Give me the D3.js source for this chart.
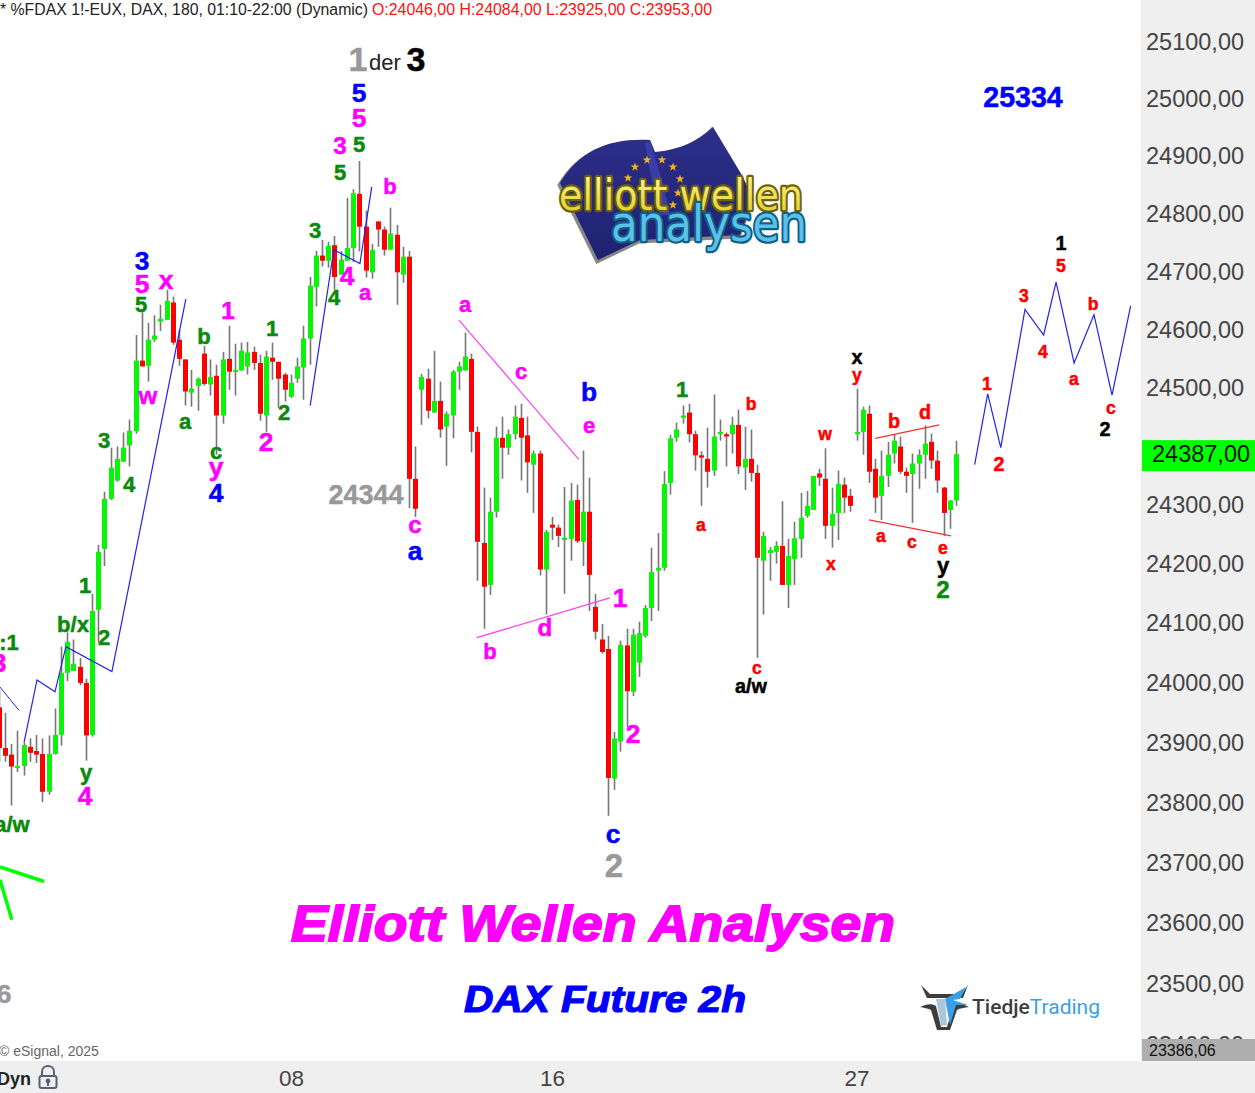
<!DOCTYPE html>
<html><head><meta charset="utf-8">
<script src="https://cdn.jsdelivr.net/npm/d3@7/dist/d3.min.js"></script>
<style>html,body{margin:0;padding:0;background:#fff}svg{display:block}text{font-family:"Liberation Sans",Arial,sans-serif}</style>
</head><body><svg id="c" width="1255" height="1093"></svg>
<script>
// ---- candle data (price units) ----
const opens=[23959,23891,23880,23858,23861,23893,23886,23881,23818,23881,23913,24017,24020,24027,24000,23913,24123,24226,24311,24342,24374,24402,24426,24547,24538,24583,24614,24617,24647,24583,24549,24492,24504,24559,24506,24521,24453,24550,24528,24530,24537,24562,24543,24453,24552,24545,24523,24485,24516,24535,24585,24674,24728,24719,24746,24695,24719,24741,24835,24778,24699,24787,24773,24738,24764,24695,24726,24345,24497,24516,24458,24478,24434,24453,24528,24530,24550,24425,24236,24165,24289,24415,24398,24421,24449,24419,24369,24388,24191,24267,24262,24241,24243,24309,24238,24289,24128,24073,24057,23840,23902,24063,23985,24034,24079,24126,24189,24194,24338,24415,24449,24458,24421,24385,24379,24359,24421,24421,24421,24437,24364,24379,24355,24206,24219,24221,24231,24165,24209,24243,24282,24292,24354,24345,24265,24287,24335,24316,24421,24425,24456,24362,24316,24350,24388,24400,24357,24353,24371,24386,24408,24376,24330,24292,24308];
const highs=[23988,23950,23898,23920,23900,23907,23913,23907,23912,23957,24061,24085,24073,24042,24007,24150,24233,24323,24398,24400,24424,24446,24591,24630,24612,24625,24643,24669,24657,24600,24549,24531,24518,24572,24549,24540,24562,24607,24576,24578,24579,24571,24557,24564,24578,24545,24526,24523,24552,24607,24691,24736,24755,24752,24762,24736,24828,24843,24892,24806,24748,24787,24778,24811,24781,24743,24736,24400,24524,24533,24564,24511,24460,24531,24545,24595,24559,24434,24330,24313,24434,24451,24429,24470,24473,24451,24393,24393,24258,24280,24267,24331,24338,24335,24393,24347,24150,24099,24079,23918,24071,24091,24091,24103,24131,24228,24253,24358,24420,24441,24470,24473,24427,24392,24432,24489,24446,24424,24451,24463,24434,24429,24369,24255,24229,24239,24307,24243,24272,24321,24324,24350,24362,24397,24330,24359,24347,24328,24499,24468,24470,24379,24393,24408,24420,24417,24364,24388,24395,24436,24422,24393,24331,24309,24410];
const lows=[23868,23868,23795,23851,23845,23868,23866,23801,23813,23880,23895,24003,24020,23996,23870,23910,24068,24197,24309,24340,24374,24366,24422,24537,24511,24579,24598,24617,24574,24538,24470,24468,24461,24504,24487,24386,24439,24497,24487,24530,24523,24531,24444,24425,24514,24466,24477,24483,24509,24480,24540,24640,24709,24707,24669,24695,24719,24717,24735,24690,24688,24743,24728,24738,24643,24681,24295,24280,24437,24448,24458,24415,24367,24414,24497,24530,24390,24172,24091,24148,24279,24345,24386,24412,24342,24321,24287,24181,24115,24241,24229,24150,24206,24236,24197,24121,24073,24049,23778,23821,23885,23925,23978,24010,24076,24104,24121,24189,24318,24408,24439,24407,24359,24299,24330,24350,24410,24366,24388,24353,24326,24340,24042,24115,24172,24201,24165,24126,24165,24211,24279,24292,24333,24243,24228,24241,24287,24289,24410,24386,24338,24287,24275,24331,24371,24353,24321,24270,24328,24345,24362,24321,24248,24260,24299];
const closes=[23891,23878,23860,23861,23896,23883,23880,23818,23881,23913,24017,24069,24032,24000,23912,24121,24221,24311,24364,24379,24398,24427,24547,24537,24583,24590,24619,24650,24578,24550,24494,24499,24516,24507,24519,24453,24549,24528,24531,24564,24561,24543,24456,24554,24545,24516,24497,24509,24537,24585,24676,24728,24719,24745,24691,24721,24741,24836,24778,24702,24738,24773,24738,24766,24699,24726,24345,24294,24519,24461,24478,24429,24456,24528,24537,24554,24425,24238,24162,24289,24415,24398,24421,24451,24415,24373,24388,24191,24255,24262,24248,24245,24308,24239,24289,24182,24086,24052,23841,23907,24064,23986,24081,24084,24126,24187,24194,24336,24414,24429,24453,24421,24385,24381,24357,24417,24425,24417,24437,24366,24379,24355,24211,24248,24224,24231,24165,24214,24244,24279,24299,24350,24347,24265,24285,24336,24313,24299,24425,24463,24357,24313,24350,24386,24410,24357,24350,24371,24386,24405,24376,24342,24287,24308,24387];

// ---- axes ----
const priceTicks=[25100,25000,24900,24800,24700,24600,24500,24300,24200,24100,24000,23900,23800,23700,23600,23500,23400];
const dateTickIndex=[47,89,138];
const dateTickLabels=["08","16","27"];
const lastPrice=24387;
const scaleMinPrice="23386,06";

// ---- drawn overlay lines as [bar index, price] ----
const forecastLine=[[157,24369],[159.1,24490],[161.2,24398],[165.1,24635],[168.1,24591],[170.1,24682],[173,24543],[176.2,24626],[179.1,24488],[182.1,24641]];
const bluePathA=[[0.2,23993],[3.25,23954]];
const bluePathB=[[4.06,23900],[6.15,24005],[9.04,23985],[10.8,24061],[18.2,24019],[30.1,24653]];
const bluePathC=[[50.1,24470],[53.9,24738],[58.1,24714],[60,24847]];
const pinkUpper=[[74,24617],[93.3,24378]];
const pinkLower=[[76.9,24076],[98.3,24143]];
const redUpper=[[141,24414],[151.3,24437]];
const redLower=[[140,24275],[153.2,24248]];
const greenRayA=[[0.2,23693],[7.3,23669]];
const greenRayB=[[0.2,23672],[2.1,23606]];

// ---- wave labels ----
const GR="#0a8a0a",MG="#ff00ff",BL="#0000ff",RD="#ff0000",BK="#000",GY="#999";
const labels=[
["1",GY,31,358,71],["3",BK,31,416,71],
["5",BL,24,359,102],["5",MG,24,359,127],["3",MG,22,340,154],["5",GR,20,359,152],["5",GR,20,340,180],["b",MG,20,390,194],
["3",BL,24,142,270],["5",MG,24,142,293],["5",GR,20,141,312],["x",MG,24,166,289],["w",MG,22,148,404],
["a",GR,20,185,429],["b",GR,20,204,344],["1",MG,22,228,319],["1",GR,20,272,336],["c",GR,20,216,459],["y",MG,24,216,476],["4",BL,24,216,502],
["2",MG,24,266,451],["2",GR,20,284,420],["3",GR,20,315,238],["4",GR,20,334,305],["4",MG,24,347,285],["a",MG,20,365,300],
["3",GR,20,104,448],["4",GR,20,129,492],["1",GR,20,85,593],["b/x",GR,20,73,632],["2",GR,20,104,645],["y",GR,20,86,780],["4",MG,24,85,805],
[":1",GR,20,9,650],["3",MG,24,-1,672],["a/w",GR,20,12,832],["6",GY,24,4,1003],
["24344",GY,24.5,366,504],["a",BL,24,415,560],["c",MG,22,415,533],
["a",MG,20,465,312],["c",MG,20,521,379],["b",BL,24,589,401],["e",MG,20,589,433],["b",MG,20,490,659],["d",MG,22,545,636],["1",MG,24,620,607],["2",MG,24,633,743],["c",BL,24,613,843],["2",GY,30,614,877],
["1",GR,20,682,397],["b",RD,16,751,410],["a",RD,16,701,531],["c",RD,16,757,674],["a/w",BK,18,751,693],["w",RD,16,825,440],["x",RD,16,831,570],
["x",BK,18,857,364],["y",RD,16,857,381],["b",RD,18,894,428],["d",RD,18,925,419],["a",RD,16,881,542],["c",RD,16,912,548],["e",RD,16,943,554],["y",BK,20,943,573],["2",GR,22,943,598],
["1",RD,16,987,390],["2",RD,18,999,471],["3",RD,16,1024,302],["4",RD,16,1043,358],["5",RD,16,1061,272],["1",BK,18,1061,250],["a",RD,16,1074,385],["b",RD,16,1093,310],["c",RD,16,1111,414],["2",BK,18,1105,436],
["25334",BL,26,1023,107]
];
const labelScale=1.1;

const svg=d3.select("#c");
const W=1255,H=1093,plotR=1141,plotB=1061;
const x=d3.scaleLinear().domain([1,154]).range([5,956]);
const y=d3.scaleLog().domain([25100,23500]).range([42,984]);
const candles=opens.map((o,i)=>({i,o,h:highs[i],l:lows[i],c:closes[i]}));
svg.append("rect").attr("width",W).attr("height",H).attr("fill","#fff");

// ---- logo behind the candles ----
const logo=svg.append("g");
const defs=svg.append("defs");
const fg=defs.append("linearGradient").attr("id","fl").attr("x1",0).attr("y1",0).attr("x2",0).attr("y2",1);
fg.append("stop").attr("offset",0).attr("stop-color","#2d2f8a");
fg.append("stop").attr("offset",1).attr("stop-color","#1f2170");
const ye=defs.append("linearGradient").attr("id","ye").attr("x1",0).attr("y1",0).attr("x2",0).attr("y2",1);
ye.append("stop").attr("offset",0).attr("stop-color","#fdf6a0");
ye.append("stop").attr("offset",1).attr("stop-color","#e0c820");
const flag="M560,183 C580,150 610,138 650,140 L655,152 C680,150 700,140 713,127 L743,177 L753,200 L740,235 L640,240 L598,260 Z";
logo.append("path").attr("d",flag).attr("fill","#888").attr("stroke","#888").attr("stroke-width",3).attr("transform","translate(-1,2)");
logo.append("path").attr("d",flag).attr("fill","url(#fl)");
logo.append("path").attr("d","M650,142 C660,170 666,195 670,215 L660,215 C654,190 648,165 645,142 Z").attr("fill","#3a3ca8");
const stars=[[635,167],[647,160],[662,160],[673,167],[680,179],[678,193],[673,205],[628,178],[633,204]];
logo.selectAll(".st").data(stars).join("path").attr("d",d3.symbol(d3.symbolStar,24)).attr("fill","#f2b318").attr("transform",d=>`translate(${d[0]},${d[1]})`);
function logoText(t,cx,by,w,fs,fill,edge){
  logo.append("text").attr("x",cx).attr("y",by).attr("text-anchor","middle").attr("textLength",w).attr("lengthAdjust","spacingAndGlyphs")
   .style("font-family","'DejaVu Sans'").attr("font-size",fs).attr("fill",fill).attr("stroke",edge).attr("stroke-width",4.5).attr("stroke-linejoin","round").attr("paint-order","stroke").text(t);
}
logoText("elliott wellen",681,210,244,42,"url(#ye)","#6d6200");
logoText("analysen",709,241,196,50,"#5cc0e8","#0f5f86");

// ---- overlay lines ----
const line=d3.line().x(d=>x(d[0])).y(d=>y(d[1]));
const lineSpec=[[bluePathA,"#2222ee",1],[bluePathB,"#2222ee",1.2],[bluePathC,"#2222ee",1.2],[forecastLine,"#2222ee",1.2],
 [pinkUpper,"#ff44ee",1.2],[pinkLower,"#ff44ee",1.4],[redUpper,"#f03030",1.3],[redLower,"#f03030",1.3],[greenRayA,"#00ff00",3.5],[greenRayB,"#00ff00",3.5]];

// ---- candles ----
const gc=svg.append("g");
gc.selectAll(".w").data(candles).join("rect").attr("class","w")
  .attr("x",d=>Math.round(x(d.i))-0.3).attr("width",1.6)
  .attr("y",d=>y(d.h)).attr("height",d=>y(d.l)-y(d.h)).attr("fill","#777");
gc.selectAll(".b").data(candles).join("rect").attr("class","b")
  .attr("x",d=>Math.round(x(d.i))-2).attr("width",5)
  .attr("y",d=>y(Math.max(d.o,d.c))).attr("height",d=>Math.max(2,y(Math.min(d.o,d.c))-y(Math.max(d.o,d.c))))
  .attr("fill",d=>d.c>=d.o?"#08f508":"#ff0000");
svg.append("g").selectAll("path").data(lineSpec).join("path").attr("fill","none")
  .attr("d",d=>line(d[0])).attr("stroke",d=>d[1]).attr("stroke-width",d=>d[2]);

// ---- wave labels ----
svg.append("g").selectAll("text").data(labels).join("text").attr("font-weight","bold").attr("text-anchor","middle")
  .attr("fill",d=>d[1]).attr("stroke",d=>d[1]).attr("stroke-width",0.5)
  .attr("font-size",d=>d[2]*labelScale).attr("x",d=>d[3]).attr("y",d=>d[4]).text(d=>d[0]);
svg.append("text").attr("x",369).attr("y",70).attr("font-size",22).attr("fill","#222").text("der");

// ---- big titles ----
svg.append("text").attr("x",291).attr("y",941).attr("textLength",604).attr("lengthAdjust","spacingAndGlyphs").attr("font-weight","bold").attr("font-style","italic")
  .attr("font-size",50).attr("fill","#ff00ff").attr("stroke","#ff00ff").attr("stroke-width",1.8).text("Elliott Wellen Analysen");
svg.append("text").attr("x",464).attr("y",1012).attr("textLength",282).attr("lengthAdjust","spacingAndGlyphs").attr("font-weight","bold").attr("font-style","italic")
  .attr("font-size",37).attr("fill","#0000ff").attr("stroke","#0000ff").attr("stroke-width",1.2).text("DAX Future 2h");

// ---- header ----
svg.append("text").attr("x",0).attr("y",15).attr("font-size",16).attr("textLength",368).attr("lengthAdjust","spacingAndGlyphs").attr("fill","#222").text("* %FDAX 1!-EUX, DAX, 180, 01:10-22:00 (Dynamic)");
svg.append("text").attr("x",372).attr("y",15).attr("font-size",16).attr("textLength",340).attr("lengthAdjust","spacingAndGlyphs").attr("fill","#ff1010").text("O:24046,00 H:24084,00 L:23925,00 C:23953,00");
svg.append("text").attr("x",-1).attr("y",1056).attr("font-size",14).attr("fill","#666").text("© eSignal, 2025");

// ---- Tiedje logo ----
const bull=svg.append("g");
bull.append("path").attr("d","M921,985 L927,998 L963,998 L968,985 L962,994 L930,994 Z").attr("fill","#3d3d3d");
bull.append("path").attr("d","M920,1007 C926,1004 932,1003 936,1006 L941,1027 L947,1027 L953,1006 C958,1003 964,1004 969,1007 C964,1008 960,1008 957,1010 L950,1030 L937,1030 L931,1010 C927,1008 924,1008 920,1007 Z").attr("fill","#3d3d3d");
bull.append("path").attr("d","M945,999 L966,987 L960,999 L953,1000 L968,1005 L956,1005 L950,1025 Z").attr("fill","#3a9fe8");
bull.append("path").attr("d","M936,999 L945,999 L947,1025 L941,1026 Z").attr("fill","#a9c6dc");
const tt=svg.append("text").attr("x",972).attr("y",1014).attr("font-size",20).style("font-family","Roboto,'Open Sans'").attr("textLength",128).attr("lengthAdjust","spacingAndGlyphs");
tt.append("tspan").attr("fill","#3d3d3d").attr("font-weight",500).text("Tiedje");
tt.append("tspan").attr("fill","#3a9fe8").text("Trading");

// ---- axis panels ----
svg.append("rect").attr("x",plotR).attr("y",0).attr("width",W-plotR).attr("height",H).attr("fill","#efefef");
svg.append("rect").attr("x",0).attr("y",plotB).attr("width",W).attr("height",H-plotB).attr("fill","#efefef");
const yAxis=svg.append("g").attr("transform",`translate(${plotR},0)`).call(d3.axisRight(y).tickValues(priceTicks).tickFormat(d=>d+",00").tickSize(0).tickPadding(5));
yAxis.select(".domain").remove();
yAxis.selectAll("text").attr("font-size",23.5).attr("fill","#444").style("font-family","'Liberation Sans'");
const xAxis=svg.append("g").attr("transform",`translate(0,${plotB})`).call(d3.axisBottom(x).tickValues(dateTickIndex).tickFormat(d=>dateTickLabels[dateTickIndex.indexOf(d)]).tickSize(0).tickPadding(9));
xAxis.select(".domain").remove();
xAxis.selectAll("text").attr("font-size",22.5).attr("fill","#444").style("font-family","'Liberation Sans'");

// price tags
svg.append("rect").attr("x",1142).attr("y",y(lastPrice)-14).attr("width",113).attr("height",31).attr("fill","#00ff00");
svg.append("text").attr("x",1152).attr("y",y(lastPrice)+8).attr("font-size",23.5).attr("fill","#111").text(lastPrice+",00");
svg.append("rect").attr("x",1142).attr("y",1039).attr("width",113).attr("height",22).attr("fill","#aeaeae");
svg.append("text").attr("x",1149).attr("y",1056).attr("font-size",16).attr("fill","#111").text(scaleMinPrice);
svg.append("rect").attr("x",plotR).attr("y",plotB).attr("width",W-plotR).attr("height",H-plotB).attr("fill","#efefef");

// footer left
svg.append("text").attr("x",-3).attr("y",1085).attr("font-size",18).attr("font-weight","bold").attr("fill","#222").text("Dyn");
const lock=svg.append("g").attr("fill","none").attr("stroke","#5a5f78").attr("stroke-width",2);
lock.append("path").attr("d","M42,1076 V1072 C42,1064 54,1064 54,1072 V1076");
lock.append("rect").attr("x",39.5).attr("y",1076).attr("width",17).attr("height",12).attr("rx",2);
lock.append("circle").attr("cx",48).attr("cy",1081).attr("r",1.4).attr("fill","#5a5f78");
lock.append("path").attr("d","M48,1082 V1086");
</script></body></html>
